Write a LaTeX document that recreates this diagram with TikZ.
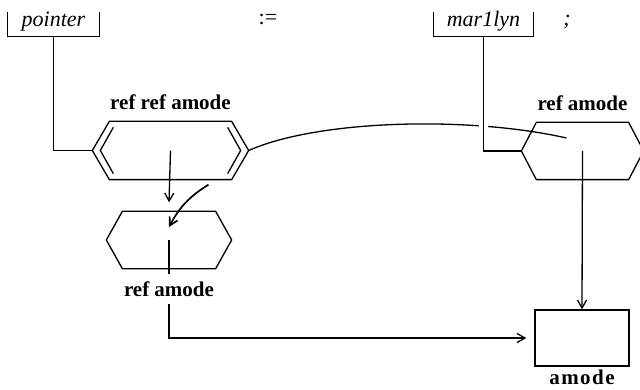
\documentclass[tikz,border=0pt]{standalone}
\usepackage{fontspec}
\setmainfont{Liberation Serif}
\usetikzlibrary{positioning, arrows.meta}

\newcommand{\hexframe}[2]{%
  \draw ([xshift=#2]#1.north west) -- ([xshift=-#2]#1.north east) -- (#1.east)
    -- ([xshift=-#2]#1.south east) -- ([xshift=#2]#1.south west) -- (#1.west) -- cycle;}
\newcommand{\bracketframe}[1]{%
  \draw (#1.north west) -- (#1.south west) -- (#1.south east) -- (#1.north east);}

\begin{document}
\begin{tikzpicture}[x=1pt, y=-1pt, line width=1.3pt,
  >={Straight Barb[length=8pt,width=9pt]},
  hexbox/.style={inner sep=0pt, minimum width=#1},
  bracket/.style={inner sep=0pt, anchor=base, text height=14pt, text depth=9pt,
                  minimum width=#1, font=\fontsize{22}{24}\selectfont\itshape},
  lbl/.style={font=\fontsize{21}{24}\selectfont\bfseries, inner sep=7pt, text depth=0pt},
  sym/.style={font=\fontsize{22}{24}\selectfont, inner sep=0pt},
  gapline/.style={preaction={draw=white, line width=9pt}}]

\fill[white] (0,0) rectangle (640,390);
\useasboundingbox (0,0) rectangle (640,390);

% source line
\node[bracket=91pt] (ptr) at (53.5,27) {pointer};
\node[sym] (becomes) at (268,19) {:=};
\node[bracket=99pt] (mar) at (483.5,27) {mar1lyn};
\node[sym, anchor=base, font=\fontsize{22}{24}\selectfont\itshape] (semi) at (567,26) {;};

% modes
\node[hexbox=155pt, minimum height=57pt] (rra) at (170.5,150.5) {};
\node[hexbox=124pt, minimum height=56pt] (ra1) at (169,240) {};
\node[hexbox=121pt, minimum height=56pt] (ra2) at (582.5,151) {};
\node[draw, inner sep=0pt, minimum width=94pt, minimum height=56pt] (am) at (582,338) {};

\node[lbl, above=4pt of rra] (rralab) {ref ref amode};
\node[lbl, below=5pt of ra1] (ra1lab) {ref amode};
\node[lbl, above=4pt of ra2] (ra2lab) {ref amode};
\node[lbl, below=0pt of am, inner sep=3pt,
      font=\fontsize{21}{24}\selectfont\bfseries\addfontfeature{LetterSpace=7}] (amlab) {amode};

% connectors
\draw (rra.east) .. controls +(70,-31) and +(-97,-22) .. ([xshift=-16pt,yshift=13pt]ra2.center);
\draw[gapline] (mar.south) |- (ra2.west);
\draw (ptr.south) |- (rra.west);
\draw[->] (rra.center) -- ([yshift=9pt]ra1.north);
\draw[->, line width=1.7pt] ([xshift=38pt,yshift=-5pt]rra.south) to[bend right=15] ([yshift=13pt]ra1.center);
\draw (ra1.center) -- (ra1lab.north);
\draw[->] (ra1lab.south) |- ([xshift=-8pt]am.west);
\draw[->] (ra2.center) -- (am.north);

% outlines
\bracketframe{ptr}
\bracketframe{mar}
\hexframe{rra}{17pt}
\draw ([xshift=21pt,yshift=-6pt]rra.north west) -- ([xshift=8pt]rra.west)
  -- ([xshift=21pt,yshift=6pt]rra.south west);
\draw ([xshift=-21pt,yshift=-6pt]rra.north east) -- ([xshift=-8pt]rra.east)
  -- ([xshift=-21pt,yshift=6pt]rra.south east);
\hexframe{ra1}{16pt}
\hexframe{ra2}{15pt}
\end{tikzpicture}
\end{document}
